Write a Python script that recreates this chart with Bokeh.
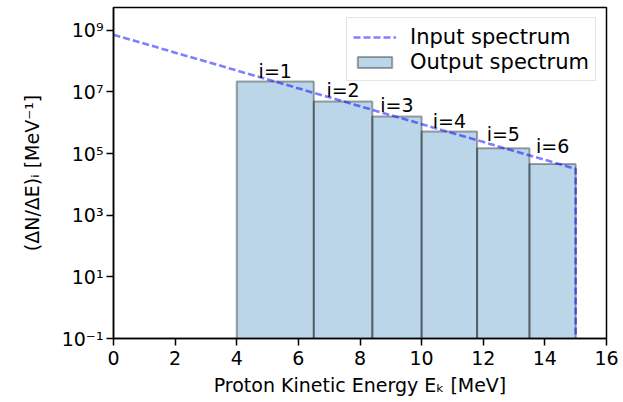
from bokeh.plotting import figure
from bokeh.models import (Range1d, FixedTicker, CustomJSTickFormatter, Legend, LegendItem,
                          ColumnDataSource)
from bokeh.core.properties import value
from bokeh.embed import file_html
from bokeh.resources import INLINE

# ---- data ----
bin_edges = [4.0, 6.5, 8.4, 10.0, 11.8, 13.5, 15.0]          # MeV
output_counts = [2.2e7, 4.9e6, 1.6e6, 5.2e5, 1.5e5, 4.6e4]    # MeV^-1
input_energy = [0.0, 15.0, 15.0]                               # MeV
input_spectrum = [7.2e8, 3.2e4, 1e-3]                          # MeV^-1
bin_labels = ["i=1", "i=2", "i=3", "i=4", "i=5", "i=6"]
label_heights = [2.6e7, 6.3e6, 2.0e6, 6.4e5, 2.3e5, 1.0e5]
x_ticks = [0, 2, 4, 6, 8, 10, 12, 14, 16]
y_ticks = [1e-1, 1e1, 1e3, 1e5, 1e7, 1e9]

FONT = "DejaVu Sans"
FS = "19px"

p = figure(width=623, height=402, y_axis_type="log", output_backend="svg",
           toolbar_location=None,
           x_range=Range1d(0, 16), y_range=Range1d(1e-1, 10 ** 9.74),
           min_border_left=113, min_border_right=17, min_border_top=7,
           min_border_bottom=64)
p.background_fill_color = "white"
p.border_fill_color = "white"
p.outline_line_color = "black"
p.outline_line_width = 1.5
p.xgrid.visible = False
p.ygrid.visible = False

bars = ColumnDataSource(dict(
    left=bin_edges[:-1], right=bin_edges[1:], top=output_counts,
    bottom=[1e-3] * len(output_counts),
))
r_bars = p.quad(left="left", right="right", top="top", bottom="bottom", source=bars,
                fill_color="#1f77b4", fill_alpha=0.3,
                line_color="black", line_alpha=0.35, line_width=2)

r_line = p.line(input_energy, input_spectrum, line_color="blue", line_alpha=0.5,
                line_width=2.6, line_dash="7 3")

centers = [(a + b) / 2 for a, b in zip(bin_edges[:-1], bin_edges[1:])]
p.text(x=centers, y=label_heights, text=bin_labels, text_align="center",
       text_baseline="alphabetic", y_offset=-8, text_font=value(FONT),
       text_font_size=FS, text_color="black")

# axes
for ax in (p.xaxis[0], p.yaxis[0]):
    ax.axis_line_color = "black"
    ax.axis_line_width = 1.5
    ax.major_tick_line_color = "black"
    ax.major_tick_line_width = 1.5
    ax.major_tick_out = 7
    ax.major_tick_in = 0
    ax.minor_tick_line_color = None
    ax.major_label_text_font = FONT
    ax.major_label_text_font_size = FS
    ax.major_label_text_color = "black"
    ax.axis_label_text_font = FONT
    ax.axis_label_text_font_size = FS
    ax.axis_label_text_font_style = "normal"
    ax.axis_label_text_color = "black"

p.xaxis.ticker = FixedTicker(ticks=x_ticks)
p.xaxis.major_label_standoff = 5
p.xaxis.axis_label = "Proton Kinetic Energy Eₖ [MeV]"
p.xaxis.axis_label_standoff = 6

p.yaxis.ticker = FixedTicker(ticks=y_ticks)
p.yaxis.formatter = CustomJSTickFormatter(code="""
const e = Math.round(Math.log10(tick));
const sup = {'-':'\u207b','0':'\u2070','1':'\u00b9','2':'\u00b2','3':'\u00b3','4':'\u2074',
             '5':'\u2075','6':'\u2076','7':'\u2077','8':'\u2078','9':'\u2079'};
return '10' + String(e).split('').map(c => sup[c]).join('');
""")
p.yaxis.major_label_standoff = 3
p.yaxis.axis_label = "(ΔN/ΔE)ᵢ [MeV⁻¹]"
p.yaxis.axis_label_standoff = 16

legend = Legend(items=[LegendItem(label="Input spectrum", renderers=[r_line]),
                       LegendItem(label="Output spectrum", renderers=[r_bars])],
                location="top_right", margin=10, padding=6, spacing=0,
                glyph_width=43, glyph_height=14, label_height=25,
                label_standoff=14,
                label_text_font=FONT, label_text_font_size="21px",
                label_text_color="black",
                border_line_color="#cccccc", border_line_width=1,
                background_fill_color="white", background_fill_alpha=0.8)
p.add_layout(legend)

open("out.html", "w").write(file_html(p, INLINE))
